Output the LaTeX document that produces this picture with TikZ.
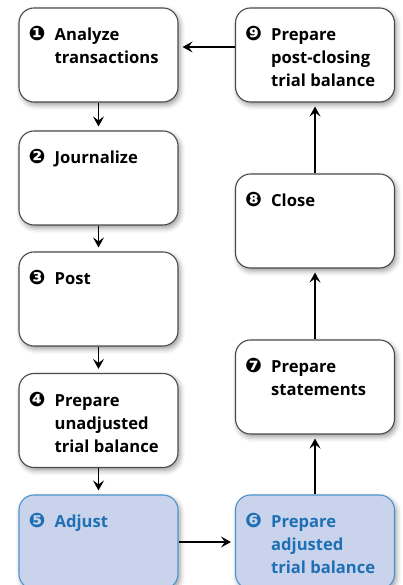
\documentclass[tikz,border=0pt]{standalone}
\usepackage{fontspec}
\setmainfont{Open Sans}
\newfontfamily\dingfont{DejaVu Sans}
\usetikzlibrary{arrows.meta,shadows.blur}

\definecolor{boxline}{HTML}{4A4A4A}
\definecolor{adjfill}{HTML}{C9D4EC}
\definecolor{adjline}{HTML}{4D94CC}
\definecolor{adjtext}{HTML}{1E6FB4}

% number in front of the first line of a step
\newcommand{\stepnum}[1]{\leavevmode\llap{{\dingfont\fontsize{20}{20}\selectfont #1}\hspace{9pt}}}

\begin{document}
\begin{tikzpicture}[x=1pt,y=1pt,
  stepbox/.style={draw=boxline, line width=1.1pt, fill=white, rounded corners=15pt,
    minimum width=159pt, minimum height=94pt,
    blur shadow={shadow xshift=2pt, shadow yshift=-3pt, shadow blur radius=5pt, shadow opacity=40}},
  adjbox/.style={stepbox, draw=adjline, fill=adjfill},
  steptext/.style={anchor=north west, inner sep=0pt, align=left,
    font=\bfseries\fontsize{16.6}{23}\selectfont},
  adjtext/.style={steptext, text=adjtext},
  flow/.style={-{Stealth[length=10pt,width=11pt,inset=4pt]}, line width=1.8pt, shorten >=4pt}]
  \useasboundingbox (0,0) rectangle (402,585);

  % left column
  \node[stepbox] (analyze) at (98.5,530) {};
  \node[stepbox] (journal) at (98.5,407) {};
  \node[stepbox] (post) at (98.5,286) {};
  \node[stepbox] (unadj) at (98.5,164.5) {};
  \node[adjbox] (adjust) at (98.5,43) {};

  % right column
  \node[stepbox] (postcl) at (315,530) {};
  \node[stepbox] (close) at (315,364) {};
  \node[stepbox] (stmts) at (315,198) {};
  \node[adjbox] (adjtb) at (315,43) {};

  % texts
  \node[steptext] (analyze-t) at ([xshift=36pt,yshift=-19pt]analyze.north west) {\stepnum{❶}Analyze\\transactions};
  \node[steptext] (journal-t) at ([xshift=36pt,yshift=-19pt]journal.north west) {\stepnum{❷}Journalize};
  \node[steptext] (post-t) at ([xshift=36pt,yshift=-19pt]post.north west) {\stepnum{❸}Post};
  \node[steptext] (unadj-t) at ([xshift=36pt,yshift=-19pt]unadj.north west) {\stepnum{❹}Prepare\\unadjusted\\trial balance};
  \node[adjtext] (adjust-t) at ([xshift=36pt,yshift=-19pt]adjust.north west) {\stepnum{❺}Adjust};
  \node[adjtext] (adjtb-t) at ([xshift=36pt,yshift=-19pt]adjtb.north west) {\stepnum{❻}Prepare\\adjusted\\trial balance};
  \node[steptext] (stmts-t) at ([xshift=36pt,yshift=-19pt]stmts.north west) {\stepnum{❼}Prepare\\statements};
  \node[steptext] (close-t) at ([xshift=36pt,yshift=-19pt]close.north west) {\stepnum{❽}Close};
  \node[steptext] (postcl-t) at ([xshift=36pt,yshift=-19pt]postcl.north west) {\stepnum{❾}Prepare\\post-closing\\trial balance};

  % arrows
  \draw[flow] (analyze) -- (journal);
  \draw[flow] (journal) -- (post);
  \draw[flow] (post) -- (unadj);
  \draw[flow] (unadj) -- (adjust);
  \draw[flow] (adjust) -- (adjtb);
  \draw[flow] (adjtb) -- (stmts);
  \draw[flow] (stmts) -- (close);
  \draw[flow] (close) -- (postcl);
  \draw[flow] ([yshift=8pt]postcl.west) -- ([yshift=8pt]analyze.east);
\end{tikzpicture}
\end{document}
